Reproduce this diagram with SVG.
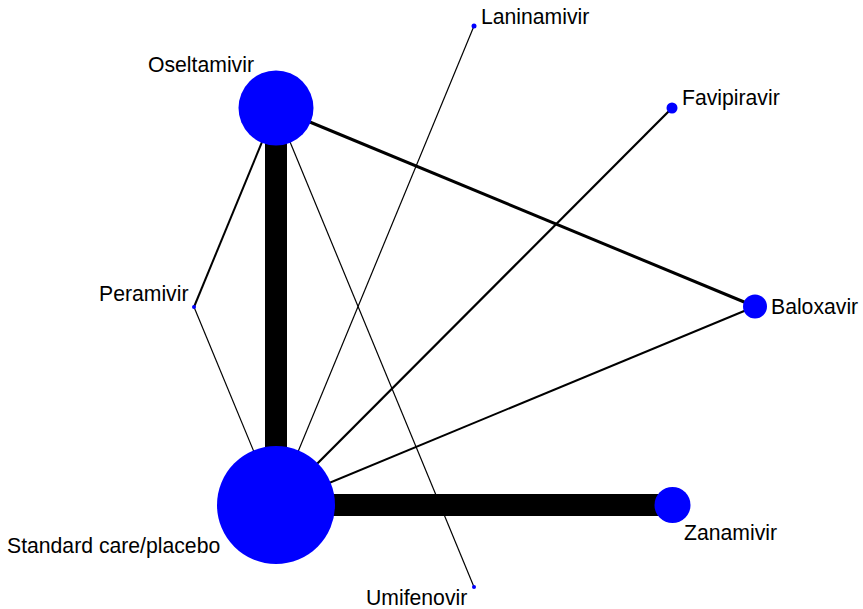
<svg xmlns="http://www.w3.org/2000/svg" width="863" height="609" viewBox="0 0 863 609">
<style>
.n{fill:#0000ff}
.l{font-family:"Liberation Sans",Arial,sans-serif;font-size:21.2px;fill:#000}
.e{stroke:#000;fill:none}
</style>
<rect width="863" height="609" fill="#fff"/>
<g id="connectors">
<line class="e" x1="276" y1="108" x2="276" y2="505" stroke-width="22"/>
<line class="e" x1="276" y1="505" x2="672.5" y2="505" stroke-width="22"/>
<line class="e" x1="276" y1="108" x2="755" y2="306.5" stroke-width="3"/>
<line class="e" x1="276" y1="505" x2="755" y2="306.5" stroke-width="2"/>
<line class="e" x1="276" y1="505" x2="672" y2="108" stroke-width="2.2"/>
<line class="e" x1="276" y1="505" x2="474" y2="26" stroke-width="1.2"/>
<line class="e" x1="276" y1="108" x2="474" y2="587" stroke-width="1.2"/>
<line class="e" x1="276" y1="108" x2="194" y2="307" stroke-width="2"/>
<line class="e" x1="194" y1="307" x2="276" y2="505" stroke-width="1.2"/>
</g>
<g id="oseltamivir"><circle class="n" cx="276" cy="108" r="37.5"/><text class="l" x="148" y="72">Oseltamivir</text></g>
<g id="standard"><circle class="n" cx="276" cy="505" r="59"/><text class="l" x="7" y="553">Standard care/placebo</text></g>
<g id="zanamivir"><circle class="n" cx="672.5" cy="505" r="18"/><text class="l" x="684" y="540">Zanamivir</text></g>
<g id="baloxavir"><circle class="n" cx="755" cy="306.5" r="12"/><text class="l" x="771" y="314">Baloxavir</text></g>
<g id="favipiravir"><circle class="n" cx="672" cy="108" r="5.5"/><text class="l" x="682" y="105">Favipiravir</text></g>
<g id="laninamivir"><circle class="n" cx="474" cy="26" r="2.5"/><text class="l" x="481" y="24">Laninamivir</text></g>
<g id="peramivir"><circle class="n" cx="194" cy="307" r="2"/><text class="l" x="99" y="301">Peramivir</text></g>
<g id="umifenovir"><circle class="n" cx="474" cy="587" r="2"/><text class="l" x="366" y="605">Umifenovir</text></g>
</svg>
